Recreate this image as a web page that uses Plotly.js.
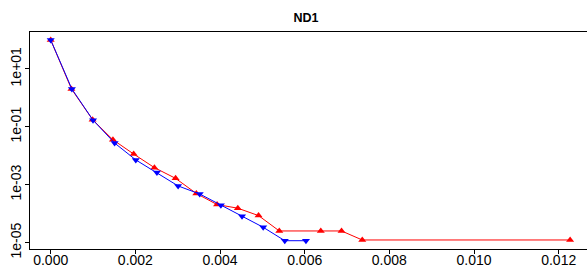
<!DOCTYPE html>
<html>
<head>
<meta charset="utf-8">
<script src="https://cdn.plot.ly/plotly-3.0.1.min.js"></script>
<style>html,body{margin:0;padding:0;background:#fff;}#chart{width:587px;height:270px;}</style>
</head>
<body>
<div id="chart"></div>
<script>
// Data
const redX = [0, 0.00049, 0.00099, 0.00147, 0.00196, 0.00245, 0.00295, 0.00344, 0.00393, 0.00442, 0.00491, 0.0054, 0.00638, 0.00687, 0.00736, 0.01227];
const redY = [100, 2.03, 0.176, 0.0358, 0.0115, 0.0039, 0.00166, 0.0005, 0.000207, 0.000155, 0.000086, 0.0000254, 0.0000254, 0.0000254, 0.0000124, 0.0000124];
const blueX = [0, 0.0005, 0.001, 0.00151, 0.00201, 0.00251, 0.00301, 0.00352, 0.00402, 0.00452, 0.00502, 0.00553, 0.00603];
const blueY = [100, 2.03, 0.17, 0.0275, 0.0072, 0.00263, 0.00091, 0.00048, 0.000197, 0.000082, 0.000034, 0.0000117, 0.0000117];
const xTickVals = [0, 0.002, 0.004, 0.006, 0.008, 0.010, 0.012];
const xTickText = ['0.000', '0.002', '0.004', '0.006', '0.008', '0.010', '0.012'];
const yTickVals = [1e-5, 1e-3, 1e-1, 1e1];
const yTickText = ['1e-05', '1e-03', '1e-01', '1e+01'];

const font = 'Liberation Sans, Arial, Helvetica, sans-serif';

const traces = [
  {x: redX, y: redY, type: 'scatter', mode: 'lines+markers',
   line: {color: '#ff0000', width: 1},
   marker: {symbol: 'triangle-up', size: 7, color: '#ff0000'}},
  {x: blueX, y: blueY, type: 'scatter', mode: 'lines+markers',
   line: {color: '#0000ff', width: 1},
   marker: {symbol: 'triangle-down', size: 7, color: '#0000ff'}}
];

const layout = {
  width: 587, height: 270,
  margin: {l: 30, r: 0, t: 32, b: 21, pad: 0},
  paper_bgcolor: '#fff', plot_bgcolor: '#fff',
  showlegend: false,
  font: {family: font, size: 14, color: '#000'},
  title: {text: '<b>ND1</b>', font: {family: font, size: 12.5, color: '#000'},
          xref: 'container', x: 306/587, xanchor: 'center',
          yref: 'container', y: 1 - 17.5/270, yanchor: 'middle'},
  xaxis: {range: [-0.000489, 0.012669], tickvals: xTickVals, ticktext: xTickText,
          showgrid: false, zeroline: false, showline: true, linecolor: '#000', linewidth: 1,
          mirror: true, ticks: 'outside', ticklen: 4, tickcolor: '#000', tickwidth: 1,
          ticklabelstandoff: -6,
          tickfont: {family: font, size: 14, color: '#000'}},
  yaxis: {type: 'log', range: [-5.218, 2.273], tickvals: yTickVals, ticktext: yTickText,
          showgrid: false, zeroline: false, showline: true, linecolor: '#000', linewidth: 1,
          mirror: false, ticks: 'outside', ticklen: 4, tickcolor: '#000', tickwidth: 1,
          tickangle: -90, ticklabelstandoff: -2,
          tickfont: {family: font, size: 14, color: '#000'}}
};

Plotly.newPlot('chart', traces, layout, {displayModeBar: false, staticPlot: true});
</script>
</body>
</html>
